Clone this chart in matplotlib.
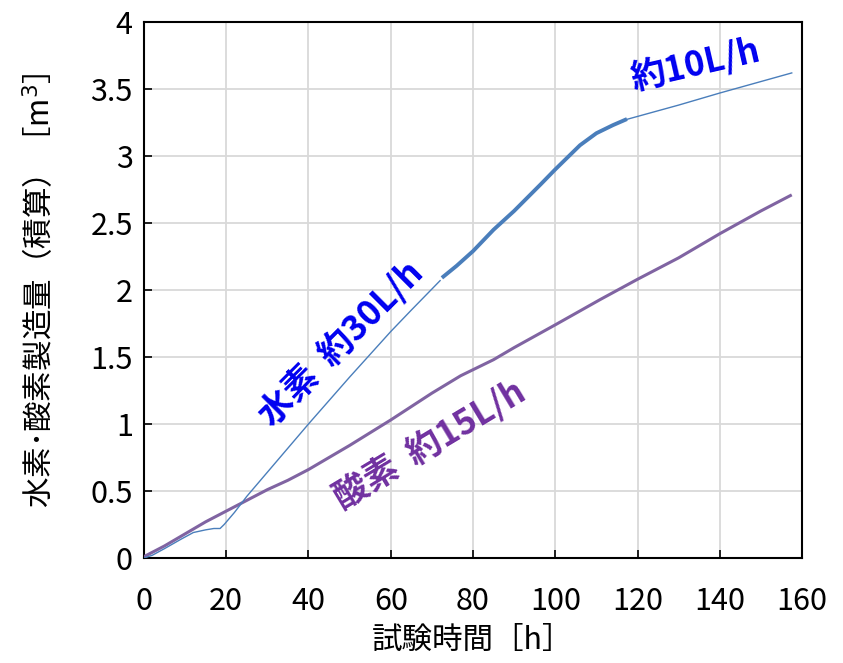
import matplotlib
matplotlib.use("Agg")
import matplotlib.pyplot as plt

plt.rcParams['font.family'] = ['Noto Sans CJK JP', 'DejaVu Sans']

# hydrogen, cumulative [m3]; three recorded segments
h2_time_a = [0, 2, 5, 9, 12, 15, 17, 18.5, 19.5, 22, 25, 30, 40, 50, 55, 60, 65, 72]
h2_vol_a = [0.0, 0.02, 0.07, 0.14, 0.19, 0.21, 0.22, 0.22, 0.25, 0.34, 0.46, 0.64,
            1.0, 1.35, 1.52, 1.69, 1.85, 2.07]
h2_time_b = [72.8, 76, 80, 85, 90, 96.5, 100, 106, 110, 114, 117]
h2_vol_b = [2.10, 2.18, 2.29, 2.45, 2.59, 2.79, 2.90, 3.08, 3.17, 3.23, 3.27]
h2_time_c = [117, 130, 140, 157.5]
h2_vol_c = [3.27, 3.38, 3.47, 3.62]

# oxygen, cumulative [m3]
o2_time = [0, 5, 10, 15, 20, 25, 30, 35, 40, 50, 60, 70, 77, 85, 90, 100, 111,
           120, 130, 140, 150, 157.5]
o2_vol = [0.01, 0.09, 0.18, 0.27, 0.35, 0.43, 0.51, 0.58, 0.66, 0.84, 1.03, 1.23,
          1.36, 1.48, 1.57, 1.74, 1.93, 2.08, 2.24, 2.42, 2.59, 2.71]

x_ticks = [0, 20, 40, 60, 80, 100, 120, 140, 160]
y_ticks = [0, 0.5, 1, 1.5, 2, 2.5, 3, 3.5, 4]
y_tick_labels = ['0', '0.5', '1', '1.5', '2', '2.5', '3', '3.5', '4']

blue_line = '#4A7EBB'
purple_line = '#8064A2'
blue_text = '#0000F0'
purple_text = '#7030A0'

fig = plt.figure(figsize=(8.43, 6.63), dpi=100)
ax = fig.add_axes([0.1708, 0.1584, 0.9514 - 0.1708, 0.9668 - 0.1584])

ax.plot(o2_time, o2_vol, color=purple_line, lw=2.2, solid_capstyle='butt', zorder=3)
ax.plot(h2_time_a, h2_vol_a, color=blue_line, lw=1.0, zorder=4)
ax.plot(h2_time_b, h2_vol_b, color=blue_line, lw=2.8, zorder=4)
ax.plot(h2_time_c, h2_vol_c, color=blue_line, lw=1.0, zorder=4)

ax.set_xlim(0, 160)
ax.set_ylim(0, 4)
ax.set_xticks(x_ticks)
ax.set_yticks(y_ticks)
ax.set_yticklabels(y_tick_labels)
ax.grid(True, color='#D9D9D9', lw=1.3)
ax.set_axisbelow(True)
for s in ax.spines.values():
    s.set_linewidth(1.5)
    s.set_color('black')
ax.tick_params(direction='in', length=6, width=1.2, labelsize=22)
ax.tick_params(axis='x', pad=20)
ax.tick_params(axis='y', pad=8)

ax.set_xlabel('試験時間［h］', fontsize=22, labelpad=6)
ax.set_ylabel('水素･酸素製造量（積算）［m$^3$］', fontsize=22, labelpad=24)

ax.text(48, 1.6, '水素  約30L/h', color=blue_text, fontsize=25, fontweight='bold',
        rotation=45, ha='center', va='center', rotation_mode='anchor')
ax.text(69.5, 0.84, '酸素  約15L/h', color=purple_text, fontsize=25, fontweight='bold',
        rotation=31, ha='center', va='center', rotation_mode='anchor')
ax.text(134, 3.68, '約10L/h', color=blue_text, fontsize=25, fontweight='bold',
        rotation=13, ha='center', va='center', rotation_mode='anchor')

fig.savefig('out.png', dpi=100)
